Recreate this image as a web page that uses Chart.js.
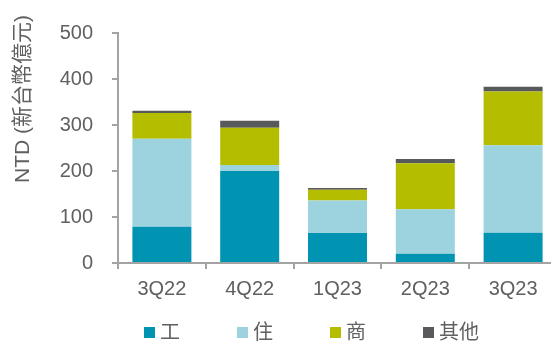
<!DOCTYPE html>
<html>
<head>
<meta charset="utf-8">
<script src="https://cdn.jsdelivr.net/npm/chart.js@4"></script>
<style>
    html, body { margin: 0; padding: 0; background: #fff; overflow: hidden; }
    #wrap { width: 560px; height: 342px; }
</style>
</head>
<body>
<div id="wrap"><canvas id="salesChart" width="560" height="342"></canvas></div>
<script>
const quarters = ['3Q22', '4Q22', '1Q23', '2Q23', '3Q23'];
const industrial = [79, 200, 65, 20, 66];
const residential = [191, 13, 71, 97, 190];
const commercial = [56, 81, 23, 100, 117];
const others = [5, 15, 4, 9, 10];
const seriesNames = ['工', '住', '商', '其他'];
const yTicks = [0, 100, 200, 300, 400, 500];
const yTitle = 'NTD (新台幣億元)';

const FONT = '"Liberation Sans", "Noto Sans CJK TC", Arial, sans-serif';
const TEXT = '#606060';
const AXIS = '#a3a3a3';
const colors = ['#0093b2', '#9dd3de', '#b5bd00', '#58595b'];

// legend + rotated axis title, drawn by hand so they sit where the original has them
const extrasPlugin = {
    id: 'extras',
    afterDraw(chart) {
        const ctx = chart.ctx;
        ctx.save();

        ctx.translate(23, 99);
        ctx.rotate(-Math.PI / 2);
        ctx.font = '21px ' + FONT;
        ctx.fillStyle = TEXT;
        ctx.textAlign = 'center';
        ctx.textBaseline = 'middle';
        ctx.fillText(yTitle, 0, 0);
        ctx.setTransform(1, 0, 0, 1, 0, 0);

        ctx.font = '20px ' + FONT;
        ctx.textAlign = 'left';
        chart.data.datasets.forEach((ds, i) => {
            const x = 144 + i * 93;
            ctx.fillStyle = ds.backgroundColor;
            ctx.fillRect(x, 327, 11, 11);
            ctx.fillStyle = TEXT;
            ctx.fillText(ds.label, x + 16, 333);
        });
        ctx.restore();
    }
};

document.addEventListener('DOMContentLoaded', function () {
    renderChart();
});

function renderChart() {
    const ctx = document.getElementById('salesChart').getContext('2d');
    const values = [industrial, residential, commercial, others];

    new Chart(ctx, {
        type: 'bar',
        data: {
            labels: quarters,
            datasets: values.map((v, i) => ({
                label: seriesNames[i],
                data: v,
                backgroundColor: colors[i],
                borderWidth: 0,
                barPercentage: 0.672,
                categoryPercentage: 1
            }))
        },
        options: {
            responsive: false,
            animation: false,
            layout: { padding: { top: 33, right: 3, left: 0, bottom: 0 } },
            plugins: {
                legend: { display: false },
                tooltip: { enabled: false }
            },
            scales: {
                x: {
                    stacked: true,
                    afterFit: s => { s.height = 79; },
                    border: { color: AXIS, width: 2 },
                    grid: { drawOnChartArea: false, drawTicks: true, tickLength: 6, color: AXIS, lineWidth: 2 },
                    ticks: { color: TEXT, font: { family: FONT, size: 20 }, padding: 8 }
                },
                y: {
                    stacked: true,
                    min: 0,
                    max: 500,
                    afterFit: s => { s.width = 118; },
                    afterBuildTicks: s => { s.ticks = yTicks.map(v => ({ value: v })); },
                    border: { color: AXIS, width: 2 },
                    grid: { drawOnChartArea: false, drawTicks: true, tickLength: 6, color: AXIS, lineWidth: 2 },
                    ticks: { color: TEXT, font: { family: FONT, size: 20 }, padding: 19 }
                }
            }
        },
        plugins: [extrasPlugin]
    });
}
</script>
</body>
</html>
